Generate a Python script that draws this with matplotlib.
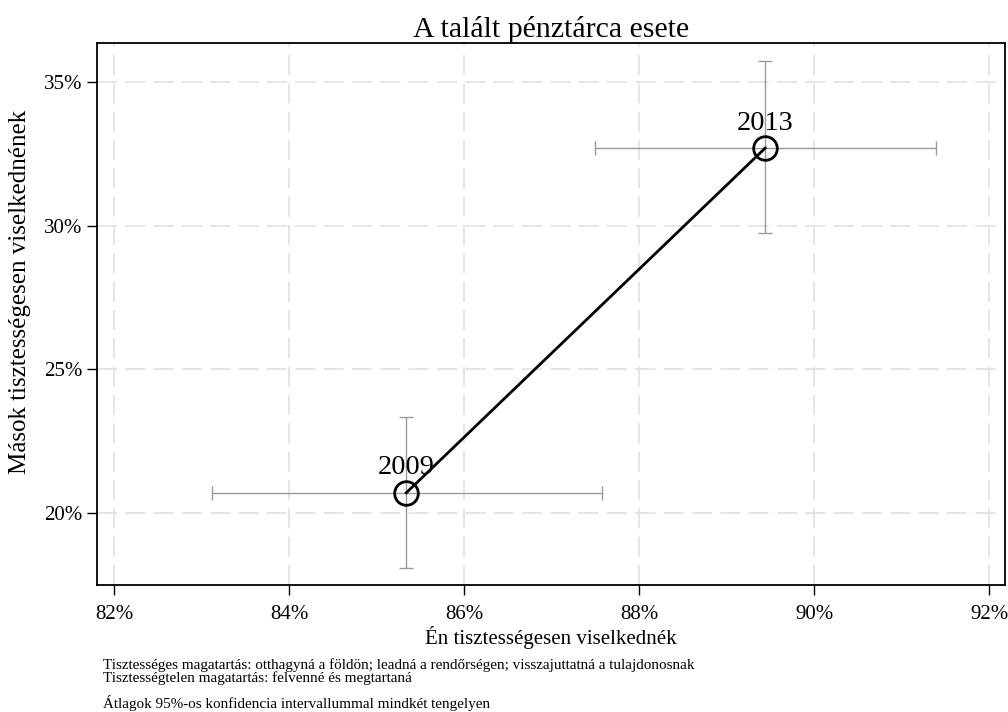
import matplotlib.pyplot as plt
from matplotlib.ticker import FuncFormatter

plt.rcParams['font.family'] = ['Liberation Serif', 'DejaVu Serif']

# DATA
years = ["2009", "2013"]
own = [85.34, 89.44]          # Én tisztességesen viselkednék (%)
own_lo = [83.12, 87.50]
own_hi = [87.58, 91.39]
others = [20.70, 32.70]       # Mások tisztességesen viselkednének (%)
others_lo = [18.09, 29.74]
others_hi = [23.34, 35.73]

x_ticks = [82, 84, 86, 88, 90, 92]
y_ticks = [20, 25, 30, 35]

fig = plt.figure(figsize=(10.08, 7.12), dpi=100)
ax = fig.add_axes([0.0962, 0.1784, 0.9008, 0.7612])

# grid
for v in x_ticks:
    ax.axvline(v, color="#e0e0e0", lw=1.2, dashes=(12, 5), zorder=0)
for v in y_ticks:
    ax.axhline(v, color="#e0e0e0", lw=1.2, dashes=(12, 5), zorder=0)

# confidence intervals
xerr = [[o - lo for o, lo in zip(own, own_lo)], [hi - o for o, hi in zip(own, own_hi)]]
yerr = [[o - lo for o, lo in zip(others, others_lo)], [hi - o for o, hi in zip(others, others_hi)]]
ax.errorbar(own, others, xerr=xerr, yerr=yerr, fmt="none", ecolor="#9a9a9a",
            elinewidth=1, capsize=5, capthick=1, zorder=2)

ax.plot(own, others, color="black", lw=2, marker="o", markersize=17,
        markerfacecolor="none", markeredgewidth=2, zorder=3)

for yr, x, y in zip(years, own, others):
    ax.annotate(yr, (x, y), xytext=(0, 9), textcoords="offset points",
                ha="center", va="bottom", fontsize=20.5)

ax.set_xlim(81.806, 92.18)
ax.set_ylim(17.49, 36.36)
ax.set_xticks(x_ticks)
ax.set_yticks(y_ticks)
pct = FuncFormatter(lambda v, p: f"{v:.0f}%")
ax.xaxis.set_major_formatter(pct)
ax.yaxis.set_major_formatter(pct)
ax.tick_params(direction="out", length=7.5, width=1, labelsize=15)
ax.tick_params(axis="x", pad=7)
ax.tick_params(axis="y", pad=3)
for s in ax.spines.values():
    s.set_linewidth(1.3)

ax.set_title("A talált pénztárca esete", fontsize=21.5, pad=4)
ax.set_xlabel("Én tisztességesen viselkednék", fontsize=15, labelpad=1.5)
ax.set_ylabel("Mások tisztességesen viselkednének", fontsize=18)
ax.yaxis.set_label_coords(-0.073, 0.54)

fig.text(0.102, 0.0376, "Tisztességes magatartás: otthagyná a földön; leadná a rendőrségen; visszajuttatná a tulajdonosnak\n"
         "Tisztességtelen magatartás: felvenné és megtartaná", fontsize=10.9, va="bottom", linespacing=0.92)
fig.text(0.102, 0.002, "Átlagok 95%-os konfidencia intervallummal mindkét tengelyen", fontsize=10.9, va="bottom")

fig.savefig("out.png")
